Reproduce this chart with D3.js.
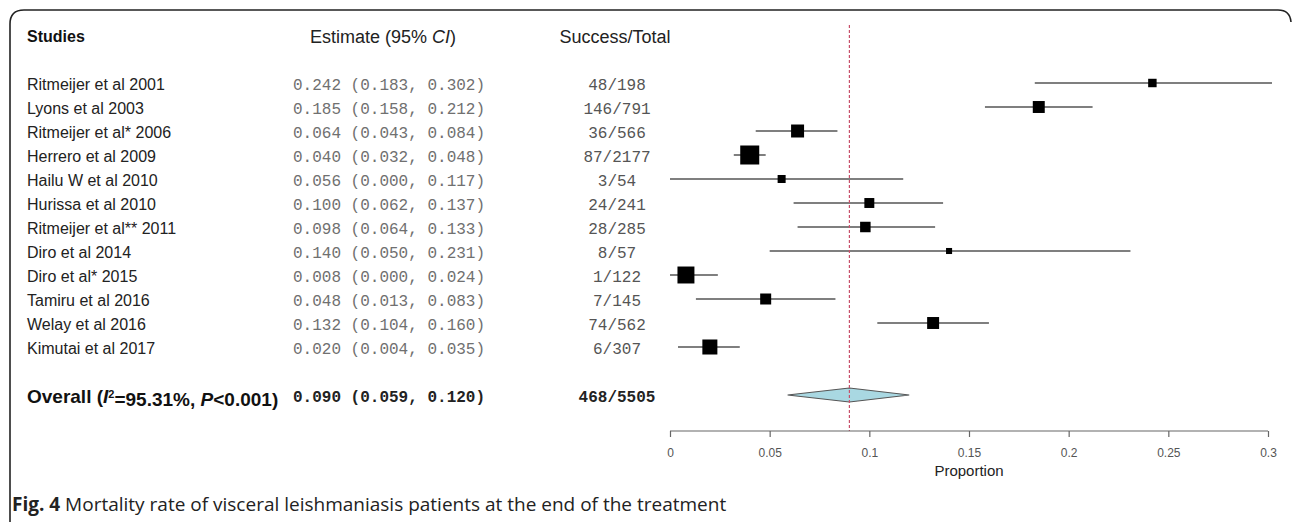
<!DOCTYPE html>
<html>
<head>
<meta charset="utf-8">
<script src="https://cdn.jsdelivr.net/npm/d3@7"></script>
<style>
  html, body { margin: 0; padding: 0; background: #fff; }
  svg { display: block; }
</style>
</head>
<body>
<svg id="chart" width="1292" height="522"></svg>
<script>
// ---------------- data ----------------
const studies = ["Ritmeijer et al 2001", "Lyons et al 2003", "Ritmeijer et al* 2006", "Herrero et al 2009",
  "Hailu W et al 2010", "Hurissa et al 2010", "Ritmeijer et al** 2011", "Diro et al 2014",
  "Diro et al* 2015", "Tamiru et al 2016", "Welay et al 2016", "Kimutai et al 2017"];
const estimates = [0.242, 0.185, 0.064, 0.040, 0.056, 0.100, 0.098, 0.140, 0.008, 0.048, 0.132, 0.020];
const lower     = [0.183, 0.158, 0.043, 0.032, 0.000, 0.062, 0.064, 0.050, 0.000, 0.013, 0.104, 0.004];
const upper     = [0.302, 0.212, 0.084, 0.048, 0.117, 0.137, 0.133, 0.231, 0.024, 0.083, 0.160, 0.035];
const successTotal = ["48/198", "146/791", "36/566", "87/2177", "3/54", "24/241", "28/285", "8/57",
  "1/122", "7/145", "74/562", "6/307"];
const weights = [3.9, 7.8, 9.2, 19.7, 3.5, 5.4, 6.0, 2.0, 15.7, 6.6, 7.8, 12.3]; // relative weight (%)
const overall = { est: 0.090, lo: 0.059, hi: 0.120, st: "468/5505" };
const tickValues = [0, 0.05, 0.1, 0.15, 0.2, 0.25, 0.3];
const tickLabels = ["0", "0.05", "0.1", "0.15", "0.2", "0.25", "0.3"];

// ---------------- layout ----------------
const svg = d3.select("#chart");
const x = d3.scaleLinear().domain([0, 0.3]).range([670, 1268]);
const y = d3.scaleLinear().domain([0, 11]).range([83, 347]);
const yOverall = y(13);
const axisY = 431;
const size = d3.scaleSqrt().domain([0, d3.max(weights)]).range([0, 19]);
const fmt = d3.format(".3f");

// frame
svg.append("path")
  .attr("d", "M10,522 L10,24 Q10,10 24,10 L1278,10 Q1290,10 1291,22")
  .attr("fill", "none").attr("stroke", "#222").attr("stroke-width", 1.6);

// headers
svg.append("text").attr("x", 27).attr("y", 42)
  .style("font", "bold 16px 'Liberation Sans', Arial, sans-serif").attr("fill", "#111").text("Studies");
const eh = svg.append("text").attr("x", 310).attr("y", 43)
  .style("font", "18px 'Liberation Sans', Arial, sans-serif").attr("fill", "#222");
eh.append("tspan").text("Estimate (95% ");
eh.append("tspan").style("font-style", "italic").text("CI");
eh.append("tspan").text(")");
svg.append("text").attr("x", 615).attr("y", 43).attr("text-anchor", "middle")
  .style("font", "18px 'Liberation Sans', Arial, sans-serif").attr("fill", "#222").text("Success/Total");

// study rows text
const rows = svg.append("g");
studies.forEach((s, i) => {
  const yy = y(i) + 1;
  rows.append("text").attr("x", 27).attr("y", yy).attr("dy", "0.35em")
    .style("font", "16px 'Liberation Sans', Arial, sans-serif").attr("fill", "#222").text(s);
  rows.append("text").attr("x", 293).attr("y", yy).attr("dy", "0.35em")
    .style("font", "16px 'Liberation Mono', monospace").attr("fill", "#707070")
    .text(`${fmt(estimates[i])} (${fmt(lower[i])}, ${fmt(upper[i])})`);
  rows.append("text").attr("x", 617).attr("y", yy).attr("dy", "0.35em").attr("text-anchor", "middle")
    .style("font", "16px 'Liberation Mono', monospace").attr("fill", "#555").text(successTotal[i]);
});

// overall text
const ot = svg.append("text").attr("x", 27).attr("y", yOverall + 1).attr("dy", "0.35em")
  .style("font", "bold 19px 'Liberation Sans', Arial, sans-serif").attr("fill", "#111");
ot.append("tspan").text("Overall (");
ot.append("tspan").style("font-style", "italic").text("I");
ot.append("tspan").attr("dy", "-0.45em").style("font-size", "11px").text("2");
ot.append("tspan").attr("dy", "0.45em").text("=95.31%, ");
ot.append("tspan").style("font-style", "italic").text("P");
ot.append("tspan").text("<0.001)");
svg.append("text").attr("x", 293).attr("y", yOverall + 1).attr("dy", "0.35em")
  .style("font", "bold 16px 'Liberation Mono', monospace").attr("fill", "#222")
  .text(`${fmt(overall.est)} (${fmt(overall.lo)}, ${fmt(overall.hi)})`);
svg.append("text").attr("x", 617).attr("y", yOverall + 1).attr("dy", "0.35em").attr("text-anchor", "middle")
  .style("font", "bold 16px 'Liberation Mono', monospace").attr("fill", "#222").text(overall.st);

// CI lines
const plot = svg.append("g");
plot.selectAll("line.ci").data(estimates).join("line").attr("class", "ci")
  .attr("x1", (d, i) => x(lower[i])).attr("x2", (d, i) => x(upper[i]))
  .attr("y1", (d, i) => y(i)).attr("y2", (d, i) => y(i))
  .attr("stroke", "#555").attr("stroke-width", 1.3);

// squares
plot.selectAll("rect.pt").data(estimates).join("rect").attr("class", "pt")
  .attr("x", (d, i) => x(d) - size(weights[i]) / 2)
  .attr("y", (d, i) => y(i) - size(weights[i]) / 2)
  .attr("width", (d, i) => size(weights[i]))
  .attr("height", (d, i) => size(weights[i]))
  .attr("fill", "#000");

// diamond
const dh = 7;
plot.append("path")
  .attr("d", `M${x(overall.lo)},${yOverall} L${x(overall.est)},${yOverall - dh} L${x(overall.hi)},${yOverall} L${x(overall.est)},${yOverall + dh} Z`)
  .attr("fill", "#a9d8e2").attr("stroke", "#555").attr("stroke-width", 1.2);

// dashed reference line at overall estimate
plot.append("line")
  .attr("x1", x(overall.est)).attr("x2", x(overall.est))
  .attr("y1", 25).attr("y2", axisY)
  .attr("stroke", "#c8506a").attr("stroke-width", 1.2).attr("stroke-dasharray", "3,2");

// axis
const axis = d3.axisBottom(x).tickValues(tickValues).tickSize(6)
  .tickFormat((d, i) => tickLabels[i]);
const ag = svg.append("g").attr("transform", `translate(0,${axisY})`).call(axis);
ag.select(".domain").attr("stroke", "#666").attr("stroke-width", 1.2).attr("d", `M${x(0)},0H${x(0.3)}`);
ag.selectAll(".tick line").attr("stroke", "#666").attr("stroke-width", 1.2).attr("y1", 0).attr("y2", 6);
ag.selectAll(".tick text").attr("y", 17)
  .style("font", "12px 'Liberation Sans', Arial, sans-serif").attr("fill", "#555");
svg.append("text").attr("x", x(0.15)).attr("y", 476).attr("text-anchor", "middle")
  .style("font", "15px 'Liberation Sans', Arial, sans-serif").attr("fill", "#222").text("Proportion");

// caption
const cap = svg.append("text").attr("x", 12).attr("y", 511)
  .style("font", "19px 'Open Sans', 'Noto Sans', sans-serif").attr("fill", "#222");
cap.append("tspan").style("font-weight", "bold").text("Fig. 4");
cap.append("tspan").text(" Mortality rate of visceral leishmaniasis patients at the end of the treatment");
</script>
</body>
</html>
